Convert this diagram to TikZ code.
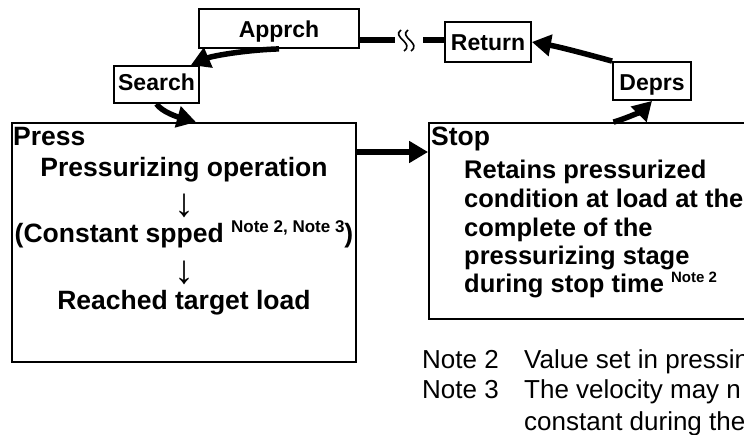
\documentclass[tikz,border=0pt]{standalone}
\usepackage{fontspec}
\setmainfont{Liberation Sans}
\usetikzlibrary{arrows.meta}
\begin{document}
\begin{tikzpicture}[x=1pt,y=-1pt,
  box/.style={draw, line width=1.8pt, inner sep=0pt, text depth=0pt, font=\fontsize{23}{27}\selectfont\bfseries},
  conn/.style={line width=5.5pt, -{Triangle[length=19pt,width=21pt]}},
  plainline/.style={line width=5.5pt},
  squig/.style={line width=1.6pt},
  big/.style={inner sep=0pt, font=\fontsize{26.5}{33}\selectfont\bfseries},
  stoptxt/.style={inner sep=0pt, anchor=base west, font=\fontsize{25.5}{30}\selectfont\bfseries},
  arr/.style={inner sep=0pt, font=\fontsize{40}{44}\selectfont\mdseries},
  note/.style={inner sep=0pt, anchor=base west, font=\fontsize{26}{32}\selectfont},
]
\useasboundingbox (0,0) rectangle (744,435);
\clip (0,0) rectangle (744,435);

% boxes
\node[box, minimum width=160pt, minimum height=39pt, text height=19pt] (apprch) at (279,28.5) {Apprch};
\node[box, minimum width=85pt, minimum height=37pt, text height=13pt] (search) at (156.5,84.5) {Search};
\node[box, minimum width=86pt, minimum height=40pt, text height=18pt] (return) at (488,42) {Return};
\node[box, minimum width=78pt, minimum height=38pt, text height=20pt] (deprs) at (652,81) {Deprs};
\node[box, minimum width=344pt, minimum height=239pt] (press) at (184,242.5) {};
\node[box, minimum width=361pt, minimum height=196pt] (stop) at (609.5,221) {};

% press contents
\node[big, anchor=base west] (tpress) at (13,146) {Press};
\node[big, anchor=base] (p1) at (184,177) {Pressurizing operation};
\node[arr] (p2) at (184,206) {↓};
\node[big, anchor=base] (p3) at (184,243) {(Constant spped \raisebox{10pt}{\fontsize{17}{19}\selectfont Note 2, Note 3})};
\node[arr] (p4) at (184,273) {↓};
\node[big, anchor=base] (p5) at (184,310) {Reached target load};

% stop contents
\node[big, anchor=base west] (tstop) at (431,146) {Stop};
\node[stoptxt] (s1) at (464,179) {Retains pressurized};
\node[stoptxt] (s2) at (464,208) {condition at load at the};
\node[stoptxt] (s3) at (464,237) {complete of the};
\node[stoptxt] (s4) at (464,265) {pressurizing stage};
\node[stoptxt] (s5) at (464,293) {during stop time \raisebox{10pt}{\fontsize{15}{18}\selectfont Note 2}};

% notes
\node[note] (n2) at (422,368) {Note 2};
\node[note] (n2t) at (524,368) {Value set in pressin};
\node[note] (n3) at (422,399) {Note 3};
\node[note] (n3t) at (524,399) {The velocity may n};
\node[note] (n3u) at (524,430) {constant during the};

% connectors
\coordinate (ps) at (0,152);
\draw[conn] (press.east |- ps) -- (stop.west |- ps);
\draw[conn] (apprch.south) .. controls (245,50) and (212,56) .. ([xshift=-9pt]search.north east);
\draw[conn] (search.south) .. controls (162,112) and (178,117) .. ([xshift=12pt]press.north);
\draw[conn] ([xshift=4pt]stop.north) .. controls (628,118) and (643,110) .. (deprs.south);
\draw[conn] (deprs.north west) .. controls (590,55) and (560,47) .. (return.east);

% broken line Apprch -- Return
\coordinate (bkL) at (395,40);
\coordinate (bkR) at (423,40);
\draw[plainline] (apprch.east |- bkL) -- (bkL);
\draw[plainline] (bkR) -- (return.west |- bkR);
\draw[squig] (401,30) .. controls (391,37) and (415,43) .. (404,51);
\draw[squig] (408,30) .. controls (398,37) and (422,43) .. (411,51);
\end{tikzpicture}
\end{document}
